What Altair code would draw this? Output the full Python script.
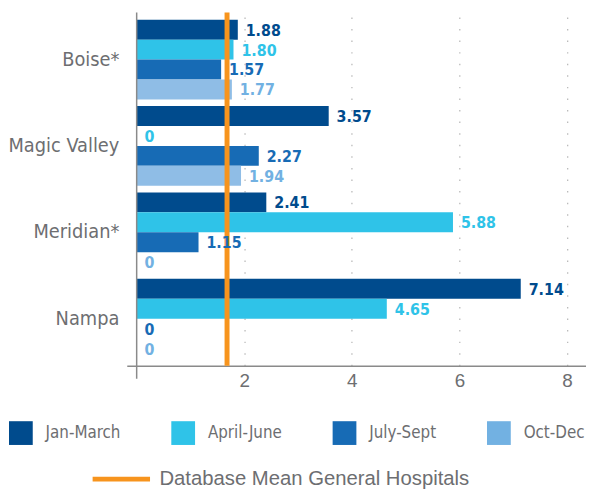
import altair as alt
import pandas as pd

regions = ["Boise*", "Magic Valley", "Meridian*", "Nampa"]
series = ["Jan-March", "April-June", "July-Sept", "Oct-Dec"]
jan_march = [1.88, 3.57, 2.41, 7.14]
april_june = [1.80, 0, 5.88, 4.65]
july_sept = [1.57, 2.27, 1.15, 0]
oct_dec = [1.77, 1.94, 0, 0]
mean_value = [1.68]
mean_label = ["Database Mean General Hospitals"]
x_ticks = [2, 4, 6, 8]

bar_colors = ["#004b8d", "#2fc3e8", "#176bb5", "#8fbde6"]
label_colors = ["#004b8d", "#2fc3e8", "#176bb5", "#72b1e2"]
mean_color = "#f7941d"

NARROW = "DejaVu Sans Condensed, Roboto, sans-serif"
REG = "Liberation Sans, Arial, sans-serif"
GRAY = "#6d6e71"

rows = []
for s, vals in zip(series, [jan_march, april_june, july_sept, oct_dec]):
    for r, v in zip(regions, vals):
        rows.append({"region": r, "series": s, "value": v})
df = pd.DataFrame(rows)
mean_df = pd.DataFrame({"mean": mean_value, "label": mean_label})

x_scale = alt.Scale(domain=[-0.184, 8.353], nice=False, zero=False)
y_enc = alt.Y("region:N", sort=regions, title=None,
              scale=alt.Scale(paddingInner=0.077, paddingOuter=0.084),
              axis=alt.Axis(domain=False, ticks=False, labelFont=NARROW,
                            labelFontSize=20, labelColor=GRAY, labelPadding=8))
yoff = alt.YOffset("series:N", sort=series,
                   scale=alt.Scale(paddingInner=0, paddingOuter=0))

base = alt.Chart(df)

bars = base.mark_bar().encode(
    x=alt.X("value:Q", scale=x_scale, title=None,
            axis=alt.Axis(values=x_ticks, grid=True, gridDash=[1.5, 10.2],
                          gridColor="#b5b5b5", gridWidth=1.2, ticks=False,
                          domainColor="#8a8a8a", domainWidth=1.5,
                          labelColor=GRAY, labelFont=REG, labelFontSize=19,
                          labelPadding=6)),
    y=y_enc,
    yOffset=yoff,
    color=alt.Color("series:N", sort=series,
                    scale=alt.Scale(domain=series, range=bar_colors), legend=None),
)

labels = base.mark_text(align="left", baseline="middle", dx=8, dy=1,
                        font=NARROW, fontSize=16, fontWeight="bold").encode(
    x=alt.X("value:Q", scale=x_scale),
    y=alt.Y("region:N", sort=regions),
    yOffset=yoff,
    text=alt.Text("txt:N"),
    color=alt.Color("series:N", sort=series,
                    scale=alt.Scale(domain=series, range=label_colors),
                    legend=alt.Legend(orient="none", legendX=-119, legendY=413,
                                      direction="horizontal", columns=4,
                                      title=None, symbolType="square",
                                      symbolSize=576, symbolStrokeWidth=0,
                                      symbolOpacity=1,
                                      labelFont=NARROW, labelFontSize=17,
                                      labelColor=GRAY, labelOffset=13,
                                      labelLimit=300,
                                      columnPadding=51, padding=0)),
).transform_calculate(
    txt="datum.value == 0 ? '0' : format(datum.value, '.2f')"
)

mean_rule = alt.Chart(mean_df).mark_rule(strokeWidth=5).encode(
    x=alt.X("mean:Q", scale=x_scale),
    stroke=alt.Stroke("label:N", scale=alt.Scale(range=[mean_color]),
                      legend=alt.Legend(orient="none", legendX=-37, legendY=440,
                                        title=None, symbolType="stroke",
                                        symbolSize=3364, symbolStrokeWidth=5,
                                        labelFont=REG, labelFontSize=20.5,
                                        labelColor=GRAY, labelOffset=7,
                                        labelLimit=500, padding=0)),
)

axis_rule = alt.Chart(mean_df).mark_rule(color="#8a8a8a", strokeWidth=1.5).encode(
    x=alt.datum(0),
    y=alt.value(0),
    y2=alt.value(370),
)

chart = alt.layer(bars, mean_rule, labels, axis_rule).resolve_scale(
    color="independent"
).properties(
    width=464, height=357,
    autosize=alt.AutoSizeParams(type="none"),
    padding={"left": 120, "top": 2, "right": 0, "bottom": 122},
).configure_view(stroke=None)

chart.save("out.html", embed_options={"renderer": "svg", "actions": False})
